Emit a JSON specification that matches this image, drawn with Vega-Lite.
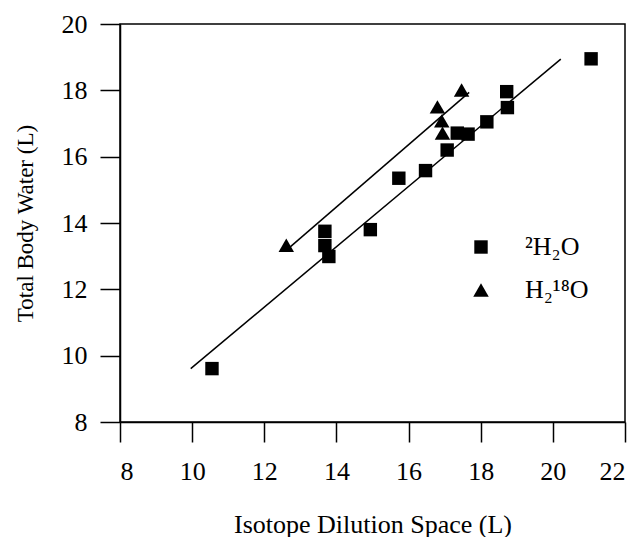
{
  "$schema": "https://vega.github.io/schema/vega-lite/v6.json",
  "width": 505,
  "height": 398,
  "autosize": {"type": "none"},
  "padding": {"left": 120, "top": 24, "right": 13, "bottom": 115},
  "background": "white",
  "config": {
    "font": "Liberation Serif",
    "view": {"stroke": "black", "strokeWidth": 1.5},
    "axis": {
      "grid": false,
      "domainColor": "black",
      "domainWidth": 1.5,
      "tickColor": "black",
      "tickWidth": 1.5,
      "tickSize": 20,
      "labelColor": "black",
      "labelFont": "Liberation Serif",
      "labelFontSize": 26,
      "titleColor": "black",
      "titleFont": "Liberation Serif",
      "titleFontSize": 26,
      "titleFontWeight": "normal"
    },
    "legend": {
      "orient": "none",
      "legendX": 348,
      "legendY": 210,
      "padding": 0,
      "symbolFillColor": "black",
      "symbolStrokeWidth": 0,
      "labelFont": "Liberation Serif",
      "labelFontSize": 26,
      "labelColor": "black",
      "labelOffset": 31,
      "rowPadding": 17
    }
  },
  "datasets": {
    "measured": [
      {"space": 10.55, "tbw": 9.61, "isotope": "²H₂O"},
      {"space": 13.68, "tbw": 13.75, "isotope": "²H₂O"},
      {"space": 13.68, "tbw": 13.32, "isotope": "²H₂O"},
      {"space": 13.79, "tbw": 12.99, "isotope": "²H₂O"},
      {"space": 14.94, "tbw": 13.8, "isotope": "²H₂O"},
      {"space": 15.73, "tbw": 15.35, "isotope": "²H₂O"},
      {"space": 16.47, "tbw": 15.58, "isotope": "²H₂O"},
      {"space": 17.07, "tbw": 16.2, "isotope": "²H₂O"},
      {"space": 17.35, "tbw": 16.71, "isotope": "²H₂O"},
      {"space": 17.65, "tbw": 16.68, "isotope": "²H₂O"},
      {"space": 18.17, "tbw": 17.05, "isotope": "²H₂O"},
      {"space": 18.72, "tbw": 17.96, "isotope": "²H₂O"},
      {"space": 18.74, "tbw": 17.48, "isotope": "²H₂O"},
      {"space": 21.06, "tbw": 18.95, "isotope": "²H₂O"},
      {"space": 12.61, "tbw": 13.33, "isotope": "H₂¹⁸O"},
      {"space": 16.8, "tbw": 17.5, "isotope": "H₂¹⁸O"},
      {"space": 16.92, "tbw": 17.08, "isotope": "H₂¹⁸O"},
      {"space": 16.94, "tbw": 16.71, "isotope": "H₂¹⁸O"},
      {"space": 17.47, "tbw": 18.01, "isotope": "H₂¹⁸O"}
    ],
    "fits": [
      {"space": 9.96, "tbw": 9.61, "isotope": "²H₂O"},
      {"space": 20.22, "tbw": 18.94, "isotope": "²H₂O"},
      {"space": 12.72, "tbw": 13.28, "isotope": "H₂¹⁸O"},
      {"space": 17.68, "tbw": 17.94, "isotope": "H₂¹⁸O"}
    ]
  },
  "layer": [
    {
      "data": {"name": "fits"},
      "mark": {"type": "line", "color": "black", "strokeWidth": 1.5},
      "encoding": {
        "x": {"field": "space", "type": "quantitative"},
        "y": {"field": "tbw", "type": "quantitative"},
        "detail": {"field": "isotope"}
      }
    },
    {
      "data": {"name": "measured"},
      "mark": {"type": "point", "filled": true, "color": "black", "opacity": 1},
      "encoding": {
        "x": {
          "field": "space",
          "type": "quantitative",
          "scale": {"domain": [8, 22], "nice": false, "zero": false},
          "axis": {
            "values": [8, 10, 12, 14, 16, 18, 20, 22],
            "labelPadding": 16,
            "title": "Isotope Dilution Space (L)",
            "titleY": 110,
            "titleBaseline": "alphabetic"
          }
        },
        "y": {
          "field": "tbw",
          "type": "quantitative",
          "scale": {"domain": [8, 20], "nice": false, "zero": false},
          "axis": {
            "values": [8, 10, 12, 14, 16, 18, 20],
            "labelPadding": 13,
            "title": "Total Body Water (L)",
            "titleFontSize": 23,
            "titleX": -88,
            "titleBaseline": "alphabetic"
          }
        },
        "shape": {
          "field": "isotope",
          "type": "nominal",
          "title": null,
          "scale": {"domain": ["²H₂O", "H₂¹⁸O"], "range": ["square", "triangle-up"]}
        },
        "size": {
          "field": "isotope",
          "type": "nominal",
          "title": null,
          "scale": {"domain": ["²H₂O", "H₂¹⁸O"], "range": [180, 240]}
        }
      }
    }
  ]
}
